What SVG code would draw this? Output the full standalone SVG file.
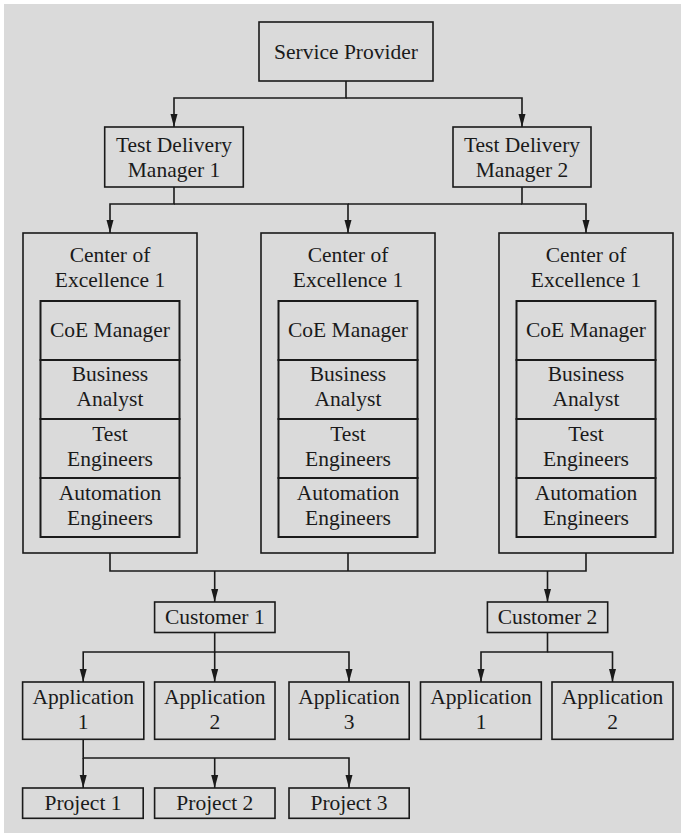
<svg xmlns="http://www.w3.org/2000/svg" width="681" height="833" viewBox="0 0 681 833">
  <defs>
    <marker id="arrow" markerUnits="userSpaceOnUse" markerWidth="13" markerHeight="8" refX="13" refY="4" orient="auto">
      <path d="M0,0.5 L13,4 L0,7.5 z" fill="#1a1a1a"/>
    </marker>
    <style>
      .box { fill: #dadada; stroke: #1a1a1a; stroke-width: 1.6; }
      .cell { fill: #dadada; stroke: #1a1a1a; stroke-width: 2; }
      .lbl { font-family: "Liberation Serif", serif; font-size: 21.5px; fill: #1a1a1a; text-anchor: middle; }
      .wire { fill: none; stroke: #1a1a1a; stroke-width: 1.6; }
      .arw { fill: none; stroke: #1a1a1a; stroke-width: 1.6; marker-end: url(#arrow); }
    </style>
  </defs>

  <!-- page background -->
  <rect x="4" y="4" width="677" height="829" fill="#dadada"/>

  <!-- connectors -->
  <g id="connectors">
    <!-- service provider to delivery managers -->
    <path class="arw" d="M346,81 V98 H174 V127"/>
    <path class="arw" d="M346,98 H522 V127"/>
    <!-- delivery managers to centers of excellence -->
    <path class="arw" d="M174,187 V204 H110 V233"/>
    <path class="arw" d="M174,204 H348 V233"/>
    <path class="arw" d="M522,187 V204 H586 V233"/>
    <path class="wire" d="M348,204 H522"/>
    <!-- centers of excellence to customers -->
    <path class="wire" d="M110,553 V571 H586 V553"/>
    <path class="wire" d="M348,553 V571"/>
    <path class="arw" d="M214.7,571 V602"/>
    <path class="arw" d="M547.5,571 V602"/>
    <!-- customer 1 to applications -->
    <path class="arw" d="M214.7,632 V652 H83.2 V682"/>
    <path class="arw" d="M214.7,652 V682"/>
    <path class="arw" d="M214.7,652 H349 V682"/>
    <!-- customer 2 to applications -->
    <path class="arw" d="M547.5,632 V652 H481 V682"/>
    <path class="arw" d="M547.5,652 H612.5 V682"/>
    <!-- application 1 to projects -->
    <path class="arw" d="M83.2,739 V758 H349 V788"/>
    <path class="arw" d="M83.2,758 V788"/>
    <path class="arw" d="M214.7,758 V788"/>
  </g>

  <g id="nodes" font-family="Liberation Serif, serif">
  <g id="service-provider">
    <rect class="box" x="259" y="22" width="174" height="59"/>
    <text class="lbl" x="346" y="58.5">Service Provider</text>
  </g>

  <g id="tdm-1">
    <rect class="box" x="104.7" y="127" width="138.6" height="60"/>
    <text class="lbl" x="174" y="152">Test Delivery</text>
    <text class="lbl" x="174" y="177">Manager 1</text>
  </g>
  <g id="tdm-2">
    <rect class="box" x="453" y="127" width="138" height="60"/>
    <text class="lbl" x="522" y="152">Test Delivery</text>
    <text class="lbl" x="522" y="177">Manager 2</text>
  </g>

  <!-- centers of excellence: outer frame with four stacked role cells -->
  <g id="coe-a">
    <rect class="box" x="23" y="233" width="174" height="320"/>
    <text class="lbl" x="110" y="262">Center of</text>
    <text class="lbl" x="110" y="287">Excellence 1</text>
    <rect class="cell" x="40.5" y="301" width="139" height="59"/>
    <rect class="cell" x="40.5" y="360" width="139" height="59"/>
    <rect class="cell" x="40.5" y="419" width="139" height="59"/>
    <rect class="cell" x="40.5" y="478" width="139" height="59"/>
    <text class="lbl" x="110" y="337">CoE Manager</text>
    <text class="lbl" x="110" y="381">Business</text>
    <text class="lbl" x="110" y="406">Analyst</text>
    <text class="lbl" x="110" y="441">Test</text>
    <text class="lbl" x="110" y="466">Engineers</text>
    <text class="lbl" x="110" y="500">Automation</text>
    <text class="lbl" x="110" y="525">Engineers</text>
  </g>
  <g id="coe-b">
    <rect class="box" x="261" y="233" width="174" height="320"/>
    <text class="lbl" x="348" y="262">Center of</text>
    <text class="lbl" x="348" y="287">Excellence 1</text>
    <rect class="cell" x="278.5" y="301" width="139" height="59"/>
    <rect class="cell" x="278.5" y="360" width="139" height="59"/>
    <rect class="cell" x="278.5" y="419" width="139" height="59"/>
    <rect class="cell" x="278.5" y="478" width="139" height="59"/>
    <text class="lbl" x="348" y="337">CoE Manager</text>
    <text class="lbl" x="348" y="381">Business</text>
    <text class="lbl" x="348" y="406">Analyst</text>
    <text class="lbl" x="348" y="441">Test</text>
    <text class="lbl" x="348" y="466">Engineers</text>
    <text class="lbl" x="348" y="500">Automation</text>
    <text class="lbl" x="348" y="525">Engineers</text>
  </g>
  <g id="coe-c">
    <rect class="box" x="499" y="233" width="174" height="320"/>
    <text class="lbl" x="586" y="262">Center of</text>
    <text class="lbl" x="586" y="287">Excellence 1</text>
    <rect class="cell" x="516.5" y="301" width="139" height="59"/>
    <rect class="cell" x="516.5" y="360" width="139" height="59"/>
    <rect class="cell" x="516.5" y="419" width="139" height="59"/>
    <rect class="cell" x="516.5" y="478" width="139" height="59"/>
    <text class="lbl" x="586" y="337">CoE Manager</text>
    <text class="lbl" x="586" y="381">Business</text>
    <text class="lbl" x="586" y="406">Analyst</text>
    <text class="lbl" x="586" y="441">Test</text>
    <text class="lbl" x="586" y="466">Engineers</text>
    <text class="lbl" x="586" y="500">Automation</text>
    <text class="lbl" x="586" y="525">Engineers</text>
  </g>

  <g id="customer-1">
    <rect class="box" x="154.6" y="602" width="120.4" height="30.5"/>
    <text class="lbl" x="214.8" y="624">Customer 1</text>
  </g>
  <g id="customer-2">
    <rect class="box" x="487.4" y="602" width="120.3" height="30.5"/>
    <text class="lbl" x="547.5" y="624">Customer 2</text>
  </g>

  <g id="c1-app-1">
    <rect class="box" x="22.6" y="682" width="121.2" height="57.3"/>
    <text class="lbl" x="83.2" y="704">Application</text>
    <text class="lbl" x="83.2" y="729">1</text>
  </g>
  <g id="c1-app-2">
    <rect class="box" x="154.6" y="682" width="120.4" height="57.3"/>
    <text class="lbl" x="214.8" y="704">Application</text>
    <text class="lbl" x="214.8" y="729">2</text>
  </g>
  <g id="c1-app-3">
    <rect class="box" x="289" y="682" width="120.2" height="57.3"/>
    <text class="lbl" x="349" y="704">Application</text>
    <text class="lbl" x="349" y="729">3</text>
  </g>
  <g id="c2-app-1">
    <rect class="box" x="420.5" y="682" width="120.8" height="57.3"/>
    <text class="lbl" x="481" y="704">Application</text>
    <text class="lbl" x="481" y="729">1</text>
  </g>
  <g id="c2-app-2">
    <rect class="box" x="552" y="682" width="121" height="57.3"/>
    <text class="lbl" x="612.5" y="704">Application</text>
    <text class="lbl" x="612.5" y="729">2</text>
  </g>

  <g id="project-1">
    <rect class="box" x="22.6" y="788" width="120.6" height="30.3"/>
    <text class="lbl" x="83" y="810">Project 1</text>
  </g>
  <g id="project-2">
    <rect class="box" x="154.6" y="788" width="120.4" height="30.3"/>
    <text class="lbl" x="214.8" y="810">Project 2</text>
  </g>
  <g id="project-3">
    <rect class="box" x="289" y="788" width="120.2" height="30.3"/>
    <text class="lbl" x="349" y="810">Project 3</text>
  </g>
  </g>
</svg>
